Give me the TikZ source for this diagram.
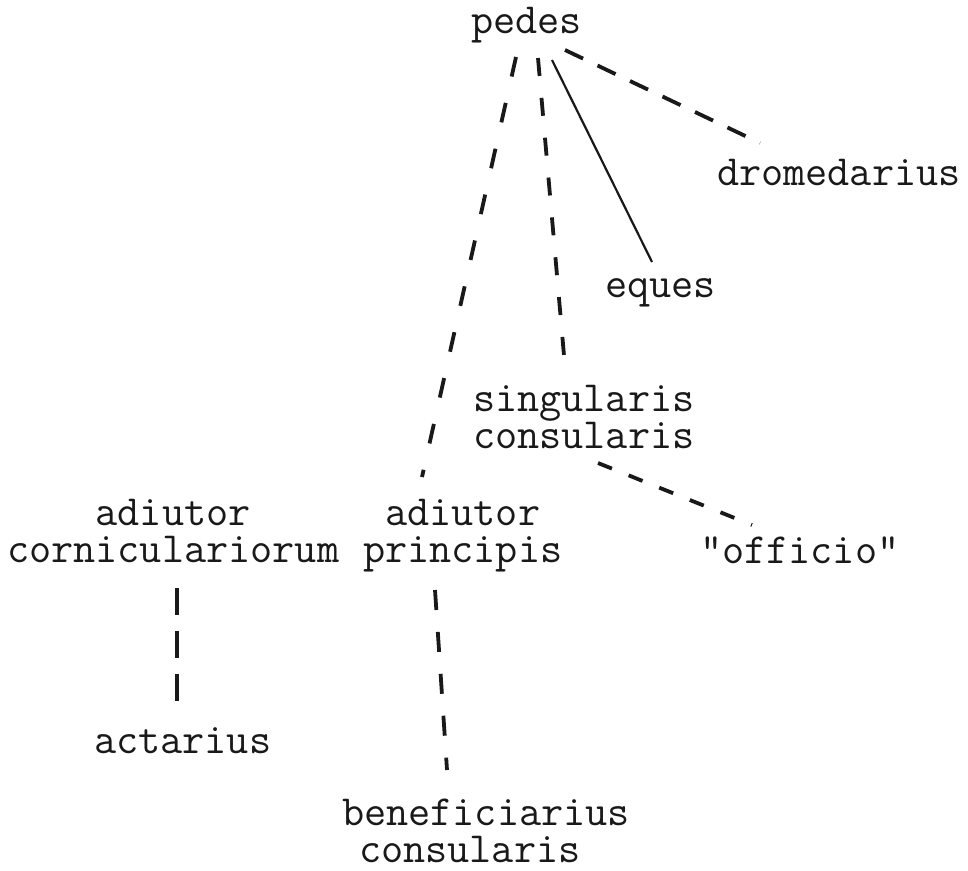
\documentclass[tikz,border=0pt]{standalone}
\usepackage{fontspec}
\usetikzlibrary{calc}
\newcommand\twolines[2]{\vtop{\baselineskip=37pt\lineskiplimit=-20pt\hbox{#1}\hbox{#2}}}
\tikzset{
  lbl/.style={anchor=base west, inner sep=0pt, outer sep=0pt, text=black!90,
    font=\ttfamily\fontsize{43}{37}\selectfont},
  typed/.style={line width=3.8pt, black!90},
  solidln/.style={line width=2.2pt, black!90},
}
\begin{document}
\begin{tikzpicture}[x=1pt,y=-1pt]
\useasboundingbox[fill=white] (0,0) rectangle (968,870);
% nodes
\node[lbl] (pedes) at (471,33) {pedes};
\node[lbl] (drom) at (717,185) {dromedarius};
\node[lbl] (eques) at (605,297) {eques};
\node[lbl] (sing) at (473,411) {\twolines{singularis}{consularis}};
\node[lbl] (adp) at (363,525) {\twolines{\phantom{x}adiutor}{principis}};
\node[lbl] (adc) at (7,525) {\twolines{\phantom{xxxx}adiutor}{corniculariorum}};
\node[lbl] (off) at (700,563) {"officio"};
\node[lbl] (act) at (94,753) {actarius};
\node[lbl] (ben) at (342,825) {\twolines{beneficiarius}{\hspace*{17pt}consularis}};
% connectors
\draw[typed, dash pattern=on 20pt off 27pt]
  ($(pedes.base west)+(45,24)$) -- ($(adp.base west)+(59,-48)$);
\draw[typed, dash pattern=on 18pt off 22pt]
  ($(pedes.base west)+(67,25)$) -- ($(sing.base west)+(92,-44)$);
\draw[solidln]
  ($(pedes.base west)+(81,27)$) -- ($(eques.base west)+(47,-35)$);
\draw[typed, dash pattern=on 20pt off 16pt]
  ($(pedes.base west)+(94,17)$) -- ($(drom.base west)+(43,-42)$);
\draw[typed, dash pattern=on 15pt off 18pt]
  ($(sing.base west)+(125,52)$) -- ($(off.base west)+(52,-38)$);
\draw[typed, dash pattern=on 27pt off 16pt]
  ($(adc.base west)+(170,63)$) -- ($(act.base west)+(83,-46)$);
\draw[typed, dash pattern=on 20pt off 22pt]
  ($(adp.base west)+(72,65)$) -- ($(ben.base west)+(105,-55)$);
\end{tikzpicture}
\end{document}
